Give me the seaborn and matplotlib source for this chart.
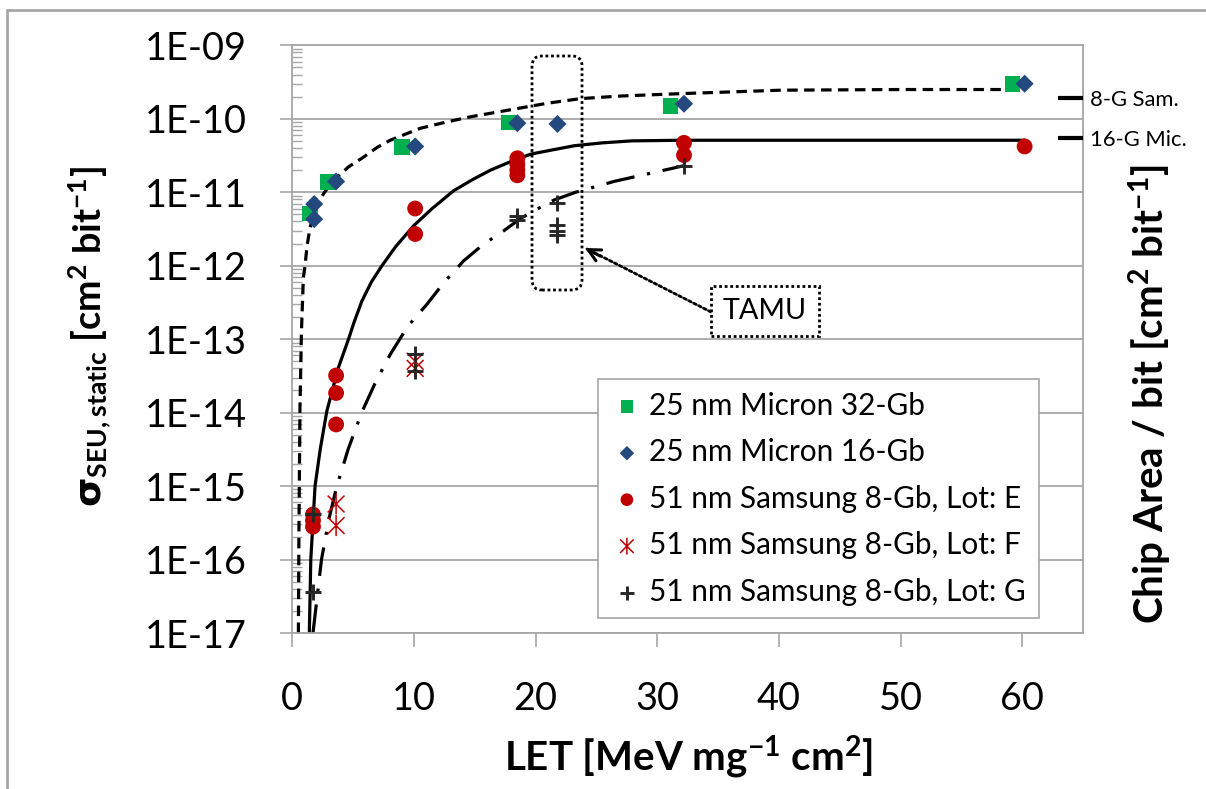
import numpy as np
import matplotlib
matplotlib.use("Agg")
import matplotlib.pyplot as plt
from matplotlib.ticker import FixedLocator, FixedFormatter, LogLocator, NullFormatter, NullLocator
from matplotlib.patches import FancyBboxPatch
from matplotlib.lines import Line2D
from matplotlib.path import Path
from matplotlib.transforms import IdentityTransform
import seaborn as sns

# ---------------- data ----------------
let_ticks = [0, 10, 20, 30, 40, 50, 60]
let_tick_labels = ["0", "10", "20", "30", "40", "50", "60"]
sigma_ticks = [1e-17, 1e-16, 1e-15, 1e-14, 1e-13, 1e-12, 1e-11, 1e-10, 1e-9]
sigma_tick_labels = ["1E-17", "1E-16", "1E-15", "1E-14", "1E-13",
                     "1E-12", "1E-11", "1E-10", "1E-09"]

micron32_let = [1.46, 2.95, 9.0, 17.8, 31.1, 59.2]
micron32_sigma = [5.1e-12, 1.38e-11, 4.1e-11, 8.9e-11, 1.5e-10, 2.95e-10]

micron16_let = [1.8, 1.8, 3.6, 10.1, 18.5, 21.8, 32.2, 60.2]
micron16_sigma = [6.9e-12, 4.3e-12, 1.4e-11, 4.2e-11, 8.7e-11, 8.5e-11, 1.6e-10, 3.0e-10]

lotE_let = [1.7, 1.7, 1.7, 3.6, 3.6, 3.6, 10.1, 10.1,
            18.5, 18.5, 18.5, 18.5, 32.2, 32.2, 60.2]
lotE_sigma = [4.1e-16, 3.4e-16, 2.8e-16, 3.2e-14, 1.85e-14, 6.9e-15, 6.0e-12, 2.7e-12,
              2.9e-11, 2.4e-11, 2.0e-11, 1.7e-11, 4.7e-11, 3.2e-11, 4.2e-11]

lotF_let = [3.6, 3.6, 10.1, 10.1]
lotF_sigma = [5.7e-16, 2.9e-16, 5.0e-14, 4.0e-14]

lotG_let = [1.7, 1.7, 10.1, 10.1, 18.5, 18.5, 21.8, 21.8, 21.8, 21.8, 32.2]
lotG_sigma = [4.2e-16, 3.6e-17, 6.3e-14, 3.7e-14, 4.7e-12, 4.2e-12,
              7.2e-12, 3.6e-12, 3.0e-12, 2.6e-12, 2.3e-11]

# fitted curves, sampled along the drawn curves of the picture
fit_micron_let = [0.50, 0.55, 0.63, 0.75, 0.91, 1.05, 1.2, 1.46, 1.9, 2.56, 3.0, 3.66,
                  4.6, 5.85, 7.0, 8.05, 10.5, 12.5, 14.6, 18.2, 21.0, 23.7, 27.0, 32.0,
                  40.2, 50.0, 58.8]
fit_micron_sigma = [1e-17, 3e-16, 1.15e-14, 1.25e-13, 6.9e-13, 1.0e-12, 1.8e-12, 3.3e-12,
                    6.0e-12, 9.5e-12, 1.2e-11, 1.58e-11, 2.2e-11, 3.0e-11, 4.1e-11,
                    5.1e-11, 7.4e-11, 8.9e-11, 1.06e-10, 1.35e-10, 1.63e-10, 1.88e-10,
                    2.04e-10, 2.2e-10, 2.45e-10, 2.5e-10, 2.5e-10]

fit_samsung_let = [1.40, 1.52, 1.87, 2.3, 2.84, 3.79, 4.62, 5.1, 5.72, 6.5, 7.37, 8.5,
                   9.98, 11.5, 13.27, 14.8, 16.3, 18.0, 19.6, 21.5, 23.2, 25.5, 27.9,
                   32.0, 45.0, 60.2]
fit_samsung_sigma = [1e-17, 1e-16, 1e-15, 3.2e-15, 1.05e-14, 4.1e-14, 1.0e-13, 1.74e-13,
                     3.3e-13, 6.0e-13, 1.0e-12, 1.82e-12, 3.5e-12, 6.0e-12, 1.05e-11,
                     1.48e-11, 2.0e-11, 2.63e-11, 3.3e-11, 3.8e-11, 4.3e-11, 4.7e-11,
                     5.0e-11, 5.1e-11, 5.1e-11, 5.1e-11]

fit_lotg_let = [1.7, 2.4, 3.0, 3.66, 4.6, 5.7, 6.8, 8.05, 9.5, 11.08, 12.5, 14.1, 15.7,
                17.4, 18.77, 20.0, 21.5, 23.3, 26.5, 30.0, 32.2]
fit_lotg_sigma = [1e-17, 1e-16, 3.5e-16, 1e-15, 3.2e-15, 1e-14, 2.5e-14, 6.2e-14,
                  1.5e-13, 3.0e-13, 6.0e-13, 1.17e-12, 1.95e-12, 3.0e-12, 4.4e-12,
                  5.75e-12, 7.8e-12, 1.0e-11, 1.41e-11, 1.9e-11, 2.3e-11]

chip_area_values = [1.9e-10, 5.5e-11]
chip_area_labels = ["8-G Sam.", "16-G Mic."]

series_labels = ["25 nm Micron 32-Gb", "25 nm Micron 16-Gb",
                 "51 nm Samsung 8-Gb, Lot: E", "51 nm Samsung 8-Gb, Lot: F",
                 "51 nm Samsung 8-Gb, Lot: G"]

x_title = r"LET [MeV mg$^{\mathregular{-1}}$ cm$^{\mathregular{2}}$]"
y_title = r"$\mathbf{\sigma}_{\mathregular{SEU,static}}$ [cm$^{\mathregular{2}}$ bit$^{\mathregular{-1}}$]"
y2_title = r"Chip Area / bit [cm$^{\mathregular{2}}$ bit$^{\mathregular{-1}}$]"

# ---------------- style ----------------
sns.set_style("white")
plt.rcParams["font.family"] = ["Lato", "DejaVu Sans"]
plt.rcParams["mathtext.default"] = "regular"
plt.rcParams["mathtext.fontset"] = "dejavusans"
for k in ["text.color", "axes.labelcolor", "xtick.color", "ytick.color"]:
    plt.rcParams[k] = "black"

GRAY = "#A6A6A6"
W, H = 1206, 789

# Excel-like star marker: vertical stroke plus a diagonal cross
star_marker = Path([(0, -1), (0, 1), (-0.8, -0.8), (0.8, 0.8), (-0.8, 0.8), (0.8, -0.8)],
                   [Path.MOVETO, Path.LINETO, Path.MOVETO, Path.LINETO,
                    Path.MOVETO, Path.LINETO])

fig = plt.figure(figsize=(W / 100, H / 100), dpi=100)
renderer = fig.canvas.get_renderer()


def fit_size(s, target_px, weight="normal", base=20.0):
    """font size (pt) so that the string s is target_px wide"""
    t = fig.text(0, 0, s, fontsize=base, fontweight=weight)
    w = t.get_window_extent(renderer=renderer).width
    t.remove()
    return base * target_px / w


tick_fs = fit_size("1E-09", 102)
legend_fs = fit_size(series_labels[4], 377)
chip_fs = fit_size(chip_area_labels[1], 97)
tamu_fs = fit_size("TAMU", 84)
xt_fs = fit_size(x_title, 370, "bold")
yt_fs = fit_size(y_title, 342, "bold")
y2t_fs = fit_size(y2_title, 460, "bold")

ax = fig.add_axes([292.3 / W, 1 - 633 / H, 790.7 / W, 587.7 / H])
ax.set_yscale("log")

# curves
sns.lineplot(x=fit_micron_let, y=fit_micron_sigma, ax=ax, color="black", linewidth=2.3,
             linestyle=(0, (3.3, 2.0)), estimator=None, sort=False, zorder=2)
sns.lineplot(x=fit_samsung_let, y=fit_samsung_sigma, ax=ax, color="black", linewidth=2.3,
             linestyle="-", estimator=None, sort=False, zorder=2)
sns.lineplot(x=fit_lotg_let, y=fit_lotg_sigma, ax=ax, color="black", linewidth=2.3,
             linestyle=(0, (9, 4, 1, 4)), estimator=None, sort=False, zorder=2)

# markers
sns.scatterplot(x=micron32_let, y=micron32_sigma, ax=ax, marker="s", s=125,
                color="#00B050", edgecolor="none", linewidth=0,
                label=series_labels[0], zorder=4)
sns.scatterplot(x=micron16_let, y=micron16_sigma, ax=ax, marker="D", s=85,
                color="#23497E", edgecolor="none", linewidth=0,
                label=series_labels[1], zorder=5)
sns.scatterplot(x=lotE_let, y=lotE_sigma, ax=ax, marker="o", s=130,
                color="#C00000", edgecolor="none", linewidth=0,
                label=series_labels[2], zorder=4)
sns.scatterplot(x=lotF_let, y=lotF_sigma, ax=ax, marker=star_marker, s=230,
                color="none", facecolor="none", edgecolor="#C00000", linewidth=1.1,
                label=series_labels[3], zorder=5)
sns.scatterplot(x=lotG_let, y=lotG_sigma, ax=ax, marker="+", s=140,
                color="#262626", linewidth=2.1,
                label=series_labels[4], zorder=6)

ax.set_xlim(0, 65)
ax.set_ylim(1e-17, 1e-9)
ax.set_xlabel("")
ax.set_ylabel("")

ax.xaxis.set_major_locator(FixedLocator(let_ticks))
ax.xaxis.set_major_formatter(FixedFormatter(let_tick_labels))
ax.yaxis.set_major_locator(FixedLocator(sigma_ticks))
ax.yaxis.set_major_formatter(FixedFormatter(sigma_tick_labels))
ax.yaxis.set_minor_locator(LogLocator(base=10, subs=np.arange(2, 10), numticks=100))
ax.yaxis.set_minor_formatter(NullFormatter())

ax.tick_params(axis="y", which="major", direction="out", length=9, width=1.2, color=GRAY,
               labelsize=tick_fs, labelcolor="black", pad=23.6, left=True, right=False)
ax.tick_params(axis="y", which="minor", direction="in", length=7, width=1.0, color=GRAY,
               left=True, right=True)
ax.tick_params(axis="x", which="major", direction="out", length=10, width=1.2, color=GRAY,
               labelsize=tick_fs, labelcolor="black", pad=24.5, bottom=True)
ax.yaxis.grid(True, which="major", color=GRAY, lw=1.3)
ax.xaxis.grid(False)
for s in ax.spines.values():
    s.set_color(GRAY)
    s.set_linewidth(1.3)

# legend
handles, labels = ax.get_legend_handles_labels()
fs_px = legend_fs * 100 / 72.0


def make_legend(labelspacing):
    lg = ax.legend(handles, labels, loc="upper left", bbox_to_anchor=(598, H - 379),
                   bbox_transform=IdentityTransform(),
                   borderaxespad=0, frameon=True, fancybox=False, edgecolor=GRAY,
                   framealpha=1, fontsize=legend_fs, handlelength=1.1, handletextpad=0.2,
                   borderpad=0.42, labelspacing=labelspacing, markerscale=0.8)
    lg.get_frame().set_linewidth(1.2)
    lg.set_zorder(10)
    return lg


ls0 = 0.6
leg = make_legend(ls0)
fig.canvas.draw()
ys = [t.get_window_extent(renderer=renderer).y0 for t in leg.get_texts()]
step = (ys[0] - ys[-1]) / 4.0
leg = make_legend(ls0 + (46.5 - step) / fs_px)

# right axis: chip area per bit
ax2 = ax.twinx()
ax2.set_yscale("log")
ax2.set_ylim(1e-17, 1e-9)
ax2.yaxis.set_major_locator(FixedLocator(chip_area_values))
ax2.yaxis.set_major_formatter(FixedFormatter(chip_area_labels))
ax2.yaxis.set_minor_locator(NullLocator())
ax2.tick_params(axis="y", which="major", direction="in", length=18, width=3, color="black",
                labelsize=chip_fs, labelcolor="black", pad=5, right=True, left=False)
ax2.grid(False)
for s in ax2.spines.values():
    s.set_visible(False)

# axis titles
fig.text(688 / W, 1 - 757 / H, x_title, ha="center", va="center",
         fontsize=xt_fs, fontweight="bold")
fig.text(90 / W, 1 - 336 / H, y_title, rotation=90, ha="center", va="center",
         fontsize=yt_fs, fontweight="bold")
fig.text(1150 / W, 1 - 394 / H, y2_title, rotation=90, ha="center", va="center",
         fontsize=y2t_fs, fontweight="bold")

# TAMU annotation (rounded dotted box, arrow, labelled box)
fig.add_artist(FancyBboxPatch((532, H - 290), 50, 234,
                              boxstyle="round,pad=0,rounding_size=10",
                              transform=IdentityTransform(), fill=False, ec="black",
                              lw=2.0, ls=(0, (1, 1)), zorder=7))
fig.text(765 / W, 1 - 311 / H, "TAMU", ha="center", va="center", fontsize=tamu_fs,
         bbox=dict(boxstyle="square,pad=0.42", fc="white", ec="black", lw=2.0,
                   ls=(0, (1, 1))), zorder=8)
ax.annotate("", xy=(587, H - 249), xytext=(711, H - 312), xycoords="figure pixels",
            textcoords="figure pixels",
            arrowprops=dict(arrowstyle="-", lw=2.0, ls=(0, (1, 1)), color="black",
                            shrinkA=0, shrinkB=0), zorder=8)
ax.annotate("", xy=(585, H - 248), xytext=(600, H - 256), xycoords="figure pixels",
            textcoords="figure pixels",
            arrowprops=dict(arrowstyle="->", lw=2.2, color="black", mutation_scale=22,
                            shrinkA=0, shrinkB=0), zorder=8)

# chart border (left and top)
fig.add_artist(Line2D([7 / W, 7 / W], [0, 1 - 10 / H], transform=fig.transFigure,
                      color=GRAY, lw=2))
fig.add_artist(Line2D([7 / W, 1], [1 - 10 / H, 1 - 10 / H], transform=fig.transFigure,
                      color=GRAY, lw=2))

fig.savefig("out.png", dpi=100)
